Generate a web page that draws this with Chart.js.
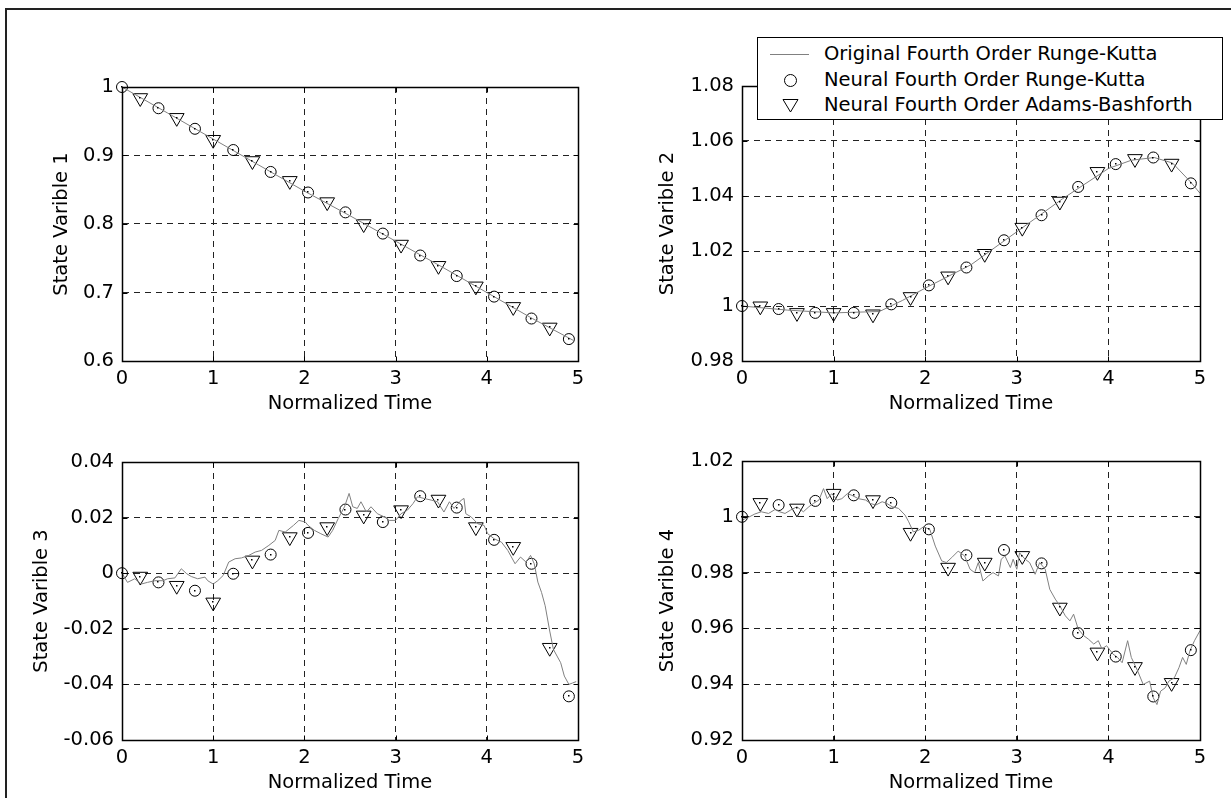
<!DOCTYPE html>
<html>
<head>
<meta charset="utf-8">
<script src="https://cdn.jsdelivr.net/npm/chart.js@4.4.0/dist/chart.umd.min.js"></script>
<style>
  body { margin: 0; background: #fff; width: 1231px; height: 798px; overflow: hidden; position: relative; font-family: "DejaVu Sans", sans-serif; }
  #frame { position: absolute; left: 5px; top: 8px; width: 1240px; height: 800px; border-left: 2px solid #222; border-top: 2px solid #222; }
  canvas { position: absolute; }
  #legend { position: absolute; left: 757px; top: 37px; width: 466px; height: 83px; box-sizing: border-box; border: 1px solid #000; background: #fff; z-index: 5; }
  #legend .row { position: absolute; left: 0; height: 24px; line-height: 24px; font-size: 19.5px; white-space: nowrap; }
  #legend .txt { position: absolute; left: 66px; top: 0; }
  #legend .line { position: absolute; left: 12px; top: 12px; width: 39px; border-top: 1px solid #808080; }
  #legend .circ { position: absolute; left: 26px; top: 6px; width: 11px; height: 11px; border: 1px solid #000; border-radius: 50%; }
  #legend svg { position: absolute; left: 24px; top: 5px; }
</style>
</head>
<body>
<div id="frame"></div>
<canvas id="chart1" width="580" height="361" style="left:20px; top:60px;"></canvas>
<canvas id="chart2" width="600" height="361" style="left:620px; top:60px;"></canvas>
<canvas id="chart3" width="580" height="365" style="left:20px; top:435px;"></canvas>
<canvas id="chart4" width="600" height="365" style="left:620px; top:435px;"></canvas>

<div id="legend">
  <div class="row" style="top:4px;"><span class="line"></span><span class="txt">Original Fourth Order Runge-Kutta</span></div>
  <div class="row" style="top:30px;"><span class="circ"></span><span class="txt">Neural Fourth Order Runge-Kutta</span></div>
  <div class="row" style="top:55px;"><svg width="17" height="15"><polygon points="1,1.5 16,1.5 8.5,14" fill="none" stroke="#000" stroke-width="1"/></svg><span class="txt">Neural Fourth Order Adams-Bashforth</span></div>
</div>

<script>
// sample times of the neural network outputs
const circleTime = [0, 0.4, 0.8, 1.22, 1.63, 2.04, 2.45, 2.86, 3.27, 3.67, 4.08, 4.49, 4.9];
const triangleTime = [0.2, 0.6, 1.0, 1.43, 1.84, 2.25, 2.65, 3.06, 3.47, 3.88, 4.29, 4.69];

const xTicks = [0, 1, 2, 3, 4, 5];
const yTicks1 = [0.6, 0.7, 0.8, 0.9, 1];
const yTicks2 = [0.98, 1, 1.02, 1.04, 1.06, 1.08];
const yTicks3 = [-0.06, -0.04, -0.02, 0, 0.02, 0.04];
const yTicks4 = [0.92, 0.94, 0.96, 0.98, 1, 1.02];

// state 1
const rkLine1 = [[0, 1.0], [0.5, 0.962], [1, 0.924], [1.5, 0.886], [2, 0.848], [2.5, 0.812], [3, 0.775], [3.5, 0.738], [4, 0.700], [4.5, 0.662], [4.95, 0.630]];
const circles1 = [1.000, 0.969, 0.939, 0.908, 0.876, 0.846, 0.817, 0.786, 0.754, 0.724, 0.694, 0.662, 0.632];
const triangles1 = [0.984, 0.955, 0.923, 0.892, 0.863, 0.832, 0.800, 0.770, 0.739, 0.709, 0.679, 0.649];

// state 2
const rkLine2 = [[0, 1.0], [0.5, 0.9985], [1, 0.9975], [1.5, 0.998], [1.75, 1.002], [2, 1.0065], [2.5, 1.015], [3, 1.027], [3.5, 1.039], [4, 1.050], [4.25, 1.053], [4.5, 1.054], [4.7, 1.052], [4.9, 1.045], [5, 1.041]];
const circles2 = [1.000, 0.9989, 0.9975, 0.9975, 1.0006, 1.0075, 1.014, 1.0239, 1.033, 1.0433, 1.0516, 1.054, 1.0446];
const triangles2 = [0.9999, 0.9975, 0.9975, 0.997, 1.0033, 1.0108, 1.019, 1.0285, 1.038, 1.0488, 1.0535, 1.0518];

// state 3
const rkLine3 = [[0, 0.0], [0.06, -0.0033], [0.14, -0.002], [0.21, -0.0039], [0.28, -0.0033], [0.36, -0.0027], [0.45, -0.0027],
  [0.5, -0.002], [0.58, -0.0017], [0.65, 0.0016], [0.71, -0.0002], [0.76, -0.0012], [0.83, -0.002], [0.91, -0.0014],
  [0.94, -0.0027], [1.0, -0.0039], [1.05, -0.0027], [1.11, -0.0008], [1.17, 0.004], [1.24, 0.0052], [1.31, 0.0055],
  [1.39, 0.0064], [1.46, 0.0076], [1.53, 0.0082], [1.61, 0.010], [1.68, 0.0118], [1.72, 0.0154], [1.79, 0.0148],
  [1.88, 0.0172], [1.94, 0.019], [2.01, 0.0184], [2.04, 0.0172], [2.11, 0.0154], [2.18, 0.0142], [2.26, 0.013],
  [2.31, 0.0154], [2.37, 0.0196], [2.44, 0.0239], [2.49, 0.0287], [2.53, 0.0239], [2.58, 0.0233], [2.62, 0.0257],
  [2.68, 0.022], [2.73, 0.0239], [2.80, 0.0214], [2.88, 0.0202], [2.93, 0.019], [3.0, 0.019], [3.06, 0.0214],
  [3.13, 0.0227], [3.19, 0.025], [3.24, 0.0275], [3.31, 0.0269], [3.39, 0.0263], [3.46, 0.0257], [3.53, 0.022],
  [3.59, 0.0257], [3.64, 0.0233], [3.72, 0.0263], [3.75, 0.0269], [3.77, 0.0214], [3.83, 0.0202], [3.90, 0.0178],
  [3.97, 0.0172], [4.01, 0.0142], [4.08, 0.0124], [4.16, 0.0112], [4.23, 0.0082], [4.31, 0.0034], [4.37, 0.0058],
  [4.43, 0.004], [4.48, 0.0064], [4.52, 0.0034], [4.56, -0.0032], [4.60, -0.0069], [4.64, -0.0117], [4.69, -0.0208],
  [4.73, -0.0274], [4.77, -0.0298], [4.81, -0.0322], [4.85, -0.037], [4.90, -0.040], [4.94, -0.0395], [4.98, -0.039]];
const circles3 = [0.000, -0.0033, -0.0063, -0.0002, 0.0067, 0.0145, 0.0229, 0.0184, 0.0277, 0.0236, 0.0120, 0.0034, -0.0443];
const triangles3 = [-0.0012, -0.0045, -0.0105, 0.0046, 0.013, 0.0166, 0.0208, 0.0227, 0.0265, 0.0166, 0.0095, -0.0268];

// state 4
const rkLine4 = [[0, 0.9988], [0.07, 0.9998], [0.14, 1.001], [0.21, 1.0018], [0.29, 1.0012], [0.36, 1.0026], [0.41, 1.0018],
  [0.47, 1.0012], [0.53, 1.0024], [0.6, 1.0036], [0.67, 1.0018], [0.73, 1.0036], [0.78, 1.0048], [0.84, 1.006],
  [0.89, 1.0101], [0.93, 1.0065], [0.98, 1.0083], [1.04, 1.006], [1.09, 1.0065], [1.15, 1.0083], [1.2, 1.0077],
  [1.27, 1.0065], [1.35, 1.006], [1.4, 1.0048], [1.46, 1.0042], [1.53, 1.0054], [1.58, 1.0048], [1.64, 1.0036],
  [1.71, 1.003], [1.78, 1.0006], [1.82, 0.9982], [1.87, 0.9946], [1.93, 0.9952], [1.98, 0.9964], [2.05, 0.9955],
  [2.11, 0.9895], [2.18, 0.9842], [2.23, 0.9836], [2.29, 0.9854], [2.36, 0.9877], [2.43, 0.986], [2.49, 0.9812],
  [2.54, 0.98], [2.58, 0.9836], [2.63, 0.977], [2.69, 0.9788], [2.74, 0.98], [2.8, 0.9788], [2.83, 0.9848],
  [2.87, 0.986], [2.93, 0.9818], [2.96, 0.9848], [3.0, 0.9812], [3.03, 0.9871], [3.09, 0.9848], [3.14, 0.9836],
  [3.2, 0.9794], [3.25, 0.9836], [3.31, 0.9812], [3.36, 0.974], [3.42, 0.9705], [3.47, 0.9681], [3.53, 0.9645],
  [3.58, 0.9627], [3.62, 0.9651], [3.67, 0.9598], [3.73, 0.9574], [3.78, 0.9562], [3.84, 0.9544], [3.89, 0.9556],
  [3.93, 0.9526], [3.98, 0.9538], [4.05, 0.9508], [4.1, 0.9496], [4.15, 0.9477], [4.21, 0.9556], [4.25, 0.9496],
  [4.32, 0.9447], [4.38, 0.9399], [4.45, 0.9411], [4.49, 0.9351], [4.53, 0.9327], [4.57, 0.9375], [4.62, 0.9387],
  [4.66, 0.9411], [4.72, 0.9423], [4.77, 0.9459], [4.81, 0.9496], [4.85, 0.9471], [4.89, 0.952], [4.94, 0.9556], [5.0, 0.9592]];
const circles4 = [1.000, 1.0042, 1.0057, 1.0077, 1.005, 0.9955, 0.9862, 0.9881, 0.9833, 0.9583, 0.9499, 0.9356, 0.9522];
const triangles4 = [1.005, 1.003, 1.0083, 1.006, 0.9943, 0.9818, 0.9836, 0.986, 0.9675, 0.9514, 0.9462, 0.9405];

const FONT = { family: "'DejaVu Sans', sans-serif", size: 19.5 };

function toPoints(times, values) {
  return times.map((t, i) => ({ x: t, y: values[i] }));
}

function pairPoints(pairs) {
  return pairs.map(p => ({ x: p[0], y: p[1] }));
}

function tickLabel(v) {
  return String(parseFloat(v.toFixed(4)));
}

// solid box, inward ticks and the little dot in every marker
const framePlugin = {
  id: 'frame',
  afterDatasetsDraw(chart) {
    const ctx = chart.ctx;
    ctx.save();
    ctx.fillStyle = '#000';
    chart.data.datasets.forEach((ds, i) => {
      if (!ds.centerDot) return;
      chart.getDatasetMeta(i).data.forEach(p => {
        ctx.fillRect(Math.round(p.x) - 1, Math.round(p.y) - 1, 1.5, 1.5);
      });
    });
    ctx.restore();
  },
  afterDraw(chart) {
    const ctx = chart.ctx;
    const a = chart.chartArea;
    const l = Math.round(a.left) + 0.5, r = Math.round(a.right) + 0.5;
    const t = Math.round(a.top) + 0.5, b = Math.round(a.bottom) + 0.5;
    ctx.save();
    ctx.strokeStyle = '#000';
    ctx.lineWidth = 1;
    ctx.beginPath();
    chart.scales.x.ticks.forEach(tk => {
      const px = Math.round(chart.scales.x.getPixelForValue(tk.value)) + 0.5;
      ctx.moveTo(px, b); ctx.lineTo(px, b - 5);
      ctx.moveTo(px, t); ctx.lineTo(px, t + 5);
    });
    chart.scales.y.ticks.forEach(tk => {
      const py = Math.round(chart.scales.y.getPixelForValue(tk.value)) + 0.5;
      ctx.moveTo(l, py); ctx.lineTo(l + 5, py);
      ctx.moveTo(r, py); ctx.lineTo(r - 5, py);
    });
    ctx.stroke();
    ctx.lineWidth = 1.5;
    ctx.strokeRect(l, t, r - l, b - t);
    ctx.restore();
  }
};

function drawPanel(id, yTitle, yTicks, rkLine, circles, triangles, layout) {
  new Chart(id, {
    type: 'line',
    data: {
      datasets: [
        {
          data: pairPoints(rkLine),
          borderColor: '#808080',
          borderWidth: 1,
          pointRadius: 0,
          fill: false,
          tension: 0
        },
        {
          data: toPoints(circleTime, circles),
          showLine: false,
          pointStyle: 'circle',
          pointRadius: 5.5,
          pointBorderColor: '#000',
          pointBackgroundColor: 'rgba(0,0,0,0)',
          pointBorderWidth: 1,
          clip: false,
          centerDot: true
        },
        {
          data: toPoints(triangleTime, triangles),
          showLine: false,
          pointStyle: 'triangle',
          pointRotation: 180,
          pointRadius: 8.5,
          pointBorderColor: '#000',
          pointBackgroundColor: 'rgba(0,0,0,0)',
          pointBorderWidth: 1,
          clip: false,
          centerDot: true
        }
      ]
    },
    options: {
      responsive: false,
      animation: false,
      devicePixelRatio: 1,
      layout: { padding: { left: 0, top: layout.top, right: layout.right, bottom: 0 } },
      plugins: { legend: { display: false }, tooltip: { enabled: false } },
      scales: {
        x: {
          type: 'linear',
          min: 0,
          max: 5,
          afterBuildTicks: s => { s.ticks = xTicks.map(v => ({ value: v })); },
          afterFit: s => { s.height = 60; },
          ticks: { color: '#000', font: FONT, padding: 6, maxRotation: 0, autoSkip: false, callback: tickLabel },
          grid: { color: '#222', lineWidth: 1, drawTicks: false },
          border: { display: true, color: '#000', width: 1, dash: [6, 5] },
          title: { display: true, text: 'Normalized Time', color: '#000', font: FONT, padding: { top: 0, bottom: 5 } }
        },
        y: {
          type: 'linear',
          min: yTicks[0],
          max: yTicks[yTicks.length - 1],
          afterBuildTicks: s => { s.ticks = yTicks.map(v => ({ value: v })); },
          afterFit: s => { s.width = layout.yWidth; },
          ticks: { color: '#000', font: FONT, padding: 8, autoSkip: false, callback: tickLabel },
          grid: { color: '#222', lineWidth: 1, drawTicks: false },
          border: { display: true, color: '#000', width: 1, dash: [6, 5] },
          title: { display: true, text: yTitle, color: '#000', font: FONT, padding: { top: layout.titlePad, bottom: 0 } }
        }
      }
    },
    plugins: [framePlugin]
  });
}

drawPanel('chart1', 'State Varible 1', yTicks1, rkLine1, circles1, triangles1, { top: 27, right: 22, yWidth: 102, titlePad: 30 });
drawPanel('chart2', 'State Varible 2', yTicks2, rkLine2, circles2, triangles2, { top: 26, right: 20, yWidth: 122, titlePad: 36 });
drawPanel('chart3', 'State Varible 3', yTicks3, rkLine3, circles3, triangles3, { top: 27, right: 22, yWidth: 102, titlePad: 10 });
drawPanel('chart4', 'State Varible 4', yTicks4, rkLine4, circles4, triangles4, { top: 26, right: 20, yWidth: 122, titlePad: 36 });
</script>
</body>
</html>
